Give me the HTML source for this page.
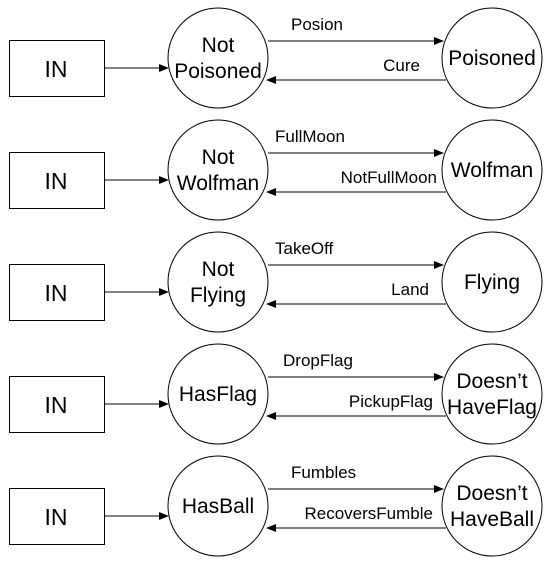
<!DOCTYPE html><html><head><style>body{margin:0;background:#fff}</style></head><body>
<svg width="560" height="560" xmlns="http://www.w3.org/2000/svg" font-family="Liberation Sans, Arial, sans-serif">
<defs><marker id="a" markerWidth="10" markerHeight="8" refX="9" refY="4" orient="auto" markerUnits="userSpaceOnUse"><path d="M0,0 L10,4 L0,8 Z" fill="#000"/></marker></defs>
<g id="r0">
<rect x="9.5" y="40.5" width="95" height="56" fill="#fff" stroke="#000"/>
<text x="56" y="77" font-size="23" text-anchor="middle">IN</text>
<line x1="104" y1="68" x2="168" y2="68" stroke="#000" marker-end="url(#a)"/>
<circle cx="218" cy="58" r="50" fill="#fff" stroke="#000"/>
<circle cx="492" cy="58" r="50" fill="#fff" stroke="#000"/>
<line x1="268" y1="41" x2="443" y2="41" stroke="#000" marker-end="url(#a)"/>
<line x1="446" y1="80" x2="267" y2="80" stroke="#000" marker-end="url(#a)"/>
</g>
<use href="#r0" y="112"/><use href="#r0" y="224"/><use href="#r0" y="336"/><use href="#r0" y="448"/>
<g font-size="17">
<text x="291" y="30">Posion</text><text x="420" y="71" text-anchor="end">Cure</text>
<text x="275" y="142">FullMoon</text><text x="437" y="183" text-anchor="end">NotFullMoon</text>
<text x="275" y="254">TakeOff</text><text x="429" y="295" text-anchor="end">Land</text>
<text x="283" y="366">DropFlag</text><text x="433" y="407" text-anchor="end">PickupFlag</text>
<text x="291" y="478">Fumbles</text><text x="433" y="519" text-anchor="end">RecoversFumble</text>
</g>
<g font-size="21" text-anchor="middle">
<text x="218" y="52">Not</text><text x="218" y="78">Poisoned</text>
<text x="492" y="65">Poisoned</text>
<text x="218" y="164">Not</text><text x="218" y="190">Wolfman</text>
<text x="492" y="177">Wolfman</text>
<text x="218" y="276">Not</text><text x="218" y="302">Flying</text>
<text x="492" y="289">Flying</text>
<text x="218" y="401">HasFlag</text>
<text x="492" y="388">Doesn’t</text><text x="492" y="414">HaveFlag</text>
<text x="218" y="513">HasBall</text>
<text x="492" y="500">Doesn’t</text><text x="492" y="526">HaveBall</text>
</g>
</svg></body></html>
